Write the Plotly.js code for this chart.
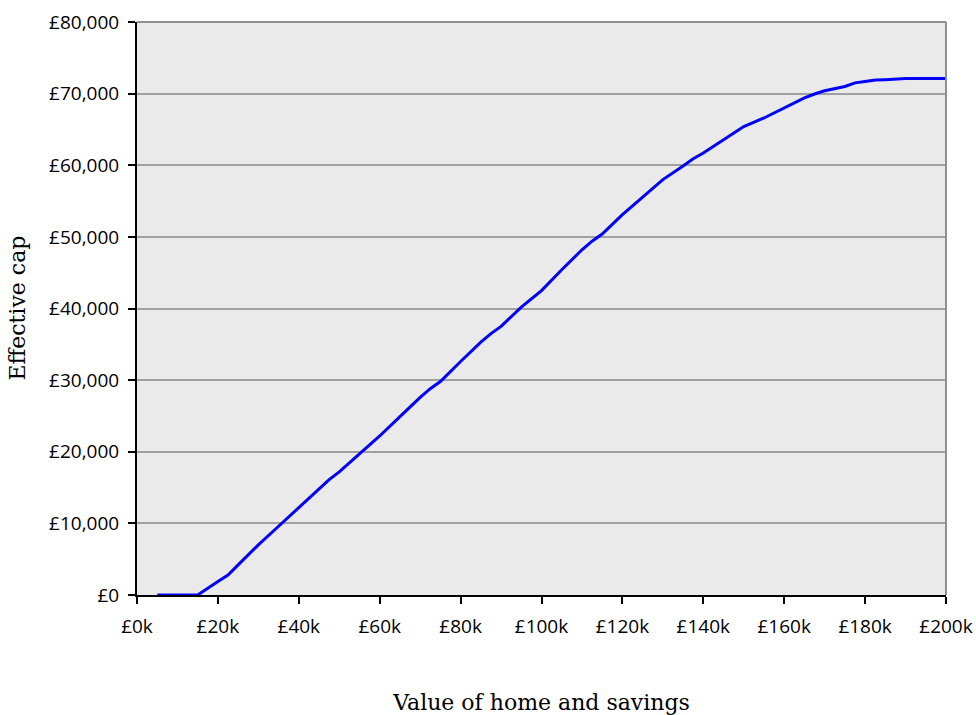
<!DOCTYPE html>
<html>
<head>
<meta charset="utf-8">
<script src="https://cdn.plot.ly/plotly-3.0.1.min.js"></script>
<style>html,body{margin:0;padding:0;background:#fff;}#chart{width:976px;height:715px;}</style>
</head>
<body>
<div id="chart"></div>
<script>
// Value of home and savings, in £ thousands
const homeValueK = [5, 10, 15, 20, 22.5, 25, 30, 35, 40, 45, 47.5, 50, 55, 57.5, 60, 65, 70, 72.5, 75, 80, 85, 87.5, 90, 95, 100, 105, 110, 112.5, 115, 120, 125, 127.5, 130, 135, 137.5, 140, 145, 150, 155, 160, 165, 167.5, 170, 175, 177.5, 180, 182.5, 185, 190, 195, 200];
// Effective cap, in £
const effectiveCap = [0, 0, 0, 1900, 2800, 4200, 7000, 9600, 12200, 14900, 16100, 17200, 19700, 21000, 22200, 24900, 27600, 28800, 29800, 32600, 35300, 36500, 37500, 40200, 42500, 45400, 48200, 49400, 50400, 53100, 55600, 56800, 58000, 59900, 60900, 61700, 63600, 65400, 66600, 68000, 69400, 69950, 70400, 71000, 71500, 71700, 71900, 71950, 72100, 72100, 72100];
const xTickVals = [0, 20, 40, 60, 80, 100, 120, 140, 160, 180, 200];
const xTickText = ['£0k', '£20k', '£40k', '£60k', '£80k', '£100k', '£120k', '£140k', '£160k', '£180k', '£200k'];
const yTickVals = [0, 10000, 20000, 30000, 40000, 50000, 60000, 70000, 80000];
const yTickText = ['£0', '£10,000', '£20,000', '£30,000', '£40,000', '£50,000', '£60,000', '£70,000', '£80,000'];
const xTitle = 'Value of home and savings';
const yTitle = 'Effective cap';

const tickFont = {family: '"Open Sans", sans-serif', size: 19, color: '#000'};
const titleFont = {family: '"DejaVu Serif", serif', size: 22, color: '#000'};

const trace = {
  x: homeValueK, y: effectiveCap, type: 'scatter', mode: 'lines',
  line: {color: '#0000ff', width: 3}, hoverinfo: 'x+y'
};

const layout = {
  width: 976, height: 715,
  margin: {l: 137, r: 30, t: 22, b: 120},
  paper_bgcolor: '#ffffff', plot_bgcolor: '#eaeaea',
  showlegend: false,
  xaxis: {
    range: [0, 200], tickmode: 'array', tickvals: xTickVals, ticktext: xTickText,
    showgrid: false, zeroline: false,
    showline: true, linecolor: '#000', linewidth: 2,
    ticks: 'outside', ticklen: 7, tickwidth: 2, tickcolor: '#000',
    ticklabelstandoff: 6,
    tickfont: tickFont,
    title: {text: xTitle, font: titleFont, standoff: 59}
  },
  yaxis: {
    range: [0, 80000], tickmode: 'array', tickvals: yTickVals, ticktext: yTickText,
    showgrid: true, gridcolor: '#a0a0a0', gridwidth: 2, zeroline: false,
    showline: true, linecolor: '#000', linewidth: 2,
    ticks: 'outside', ticklen: 7, tickwidth: 2, tickcolor: '#000',
    ticklabelstandoff: 5,
    tickfont: tickFont
  },
  annotations: [
    {text: yTitle, xref: 'paper', yref: 'paper', x: 0, y: 0.5, xanchor: 'center', yanchor: 'middle',
     xshift: -120, textangle: -90, showarrow: false, font: titleFont}
  ],
  shapes: [
    {type: 'line', xref: 'paper', yref: 'paper', x0: 0, x1: 1, y0: 1, y1: 1, line: {color: '#909090', width: 2}, layer: 'above'},
    {type: 'line', xref: 'paper', yref: 'paper', x0: 1, x1: 1, y0: 0, y1: 1, line: {color: '#909090', width: 2}, layer: 'above'}
  ]
};

Plotly.newPlot('chart', [trace], layout, {displayModeBar: false, staticPlot: true});
</script>
</body>
</html>
